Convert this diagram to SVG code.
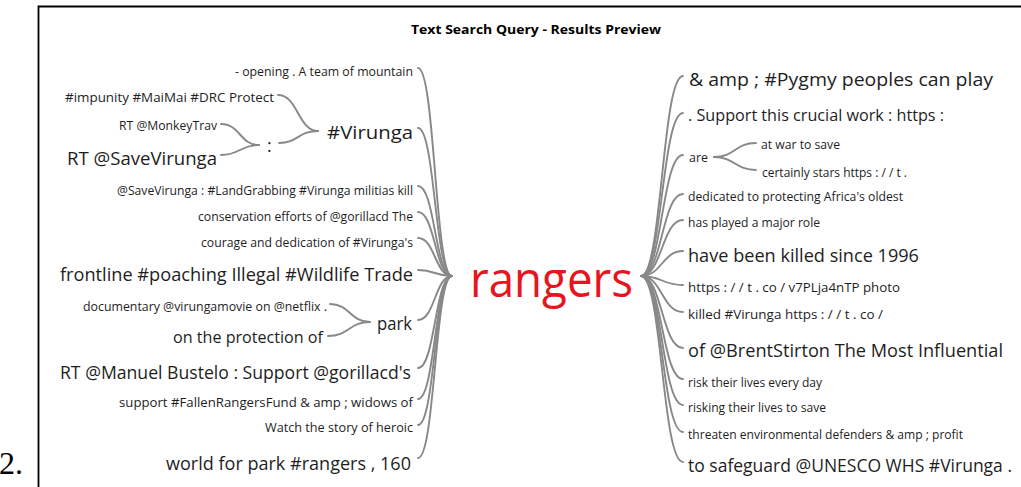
<svg xmlns="http://www.w3.org/2000/svg" width="1021" height="487" viewBox="0 0 1021 487">
<style>
.t{font-family:"Open Sans","Noto Sans",sans-serif;fill:#1e1e1e}
.s{font-size:12.5px}
.m{font-size:16px}
.l{font-size:18px}
.e{text-anchor:end}
.c{fill:none;stroke:#888;stroke-width:1.9;stroke-linecap:round}
</style>
<rect width="1021" height="487" fill="#fff"/>
<g id="frame" fill="none" stroke="#000" stroke-width="1.8">
<path d="M38.5 487V6.5H1021"/>
</g>
<text x="-1" y="474" style="font-family:'Liberation Serif',serif;font-size:32px;fill:#000">2.</text>
<g id="title"><text x="411" y="34" textLength="250" lengthAdjust="spacingAndGlyphs" style="font-family:'Open Sans','Noto Sans',sans-serif;font-weight:bold;font-size:13px;fill:#000">Text Search Query - Results Preview</text></g>

<g id="connectors">
<path class="c" d="M418 68C435 68 435 276 452 276"/>
<path class="c" d="M418 128C435 128 435 276 452 276"/>
<path class="c" d="M418 186C435 186 435 276 452 276"/>
<path class="c" d="M418 212C435 212 435 276 452 276"/>
<path class="c" d="M418 238C435 238 435 276 452 276"/>
<path class="c" d="M418 270C435 270 435 276 452 276"/>
<path class="c" d="M418 320C435 320 435 276 452 276"/>
<path class="c" d="M418 368C435 368 435 276 452 276"/>
<path class="c" d="M418 399C435 399 435 276 452 276"/>
<path class="c" d="M418 425C435 425 435 276 452 276"/>
<path class="c" d="M418 458C435 458 435 276 452 276"/>
<path class="c" d="M318 131C298 131 298 95 278 95"/>
<path class="c" d="M318 131C298 131 298 143 279 143"/>
<path class="c" d="M259 145C240 145 240 124 221 124"/>
<path class="c" d="M259 145C240 145 240 155 221 155"/>
<path class="c" d="M370 322C350 322 350 304 330 304"/>
<path class="c" d="M370 322C349 322 349 336 328 336"/>
<path class="c" d="M641 276C662 276 662 76 683 76"/>
<path class="c" d="M641 276C662 276 662 113 683 113"/>
<path class="c" d="M641 276C662 276 662 155 683 155"/>
<path class="c" d="M641 276C662 276 662 194 683 194"/>
<path class="c" d="M641 276C662 276 662 220 683 220"/>
<path class="c" d="M641 276C662 276 662 251 683 251"/>
<path class="c" d="M641 276C662 276 662 285 683 285"/>
<path class="c" d="M641 276C662 276 662 312 683 312"/>
<path class="c" d="M641 276C662 276 662 348 683 348"/>
<path class="c" d="M641 276C662 276 662 379 683 379"/>
<path class="c" d="M641 276C662 276 662 405 683 405"/>
<path class="c" d="M641 276C662 276 662 432 683 432"/>
<path class="c" d="M641 276C662 276 662 462 683 462"/>
<path class="c" d="M714 157C735 157 735 143 756 143"/>
<path class="c" d="M714 157C735 157 735 170 756 170"/>
</g>

<g id="root"><text x="470" y="297" textLength="163" lengthAdjust="spacingAndGlyphs" style="font-family:'Open Sans','Noto Sans',sans-serif;font-size:50px;fill:#e8141e">rangers</text></g>

<g id="l-opening"><text class="t s e" x="413" y="76" textLength="178" lengthAdjust="spacingAndGlyphs">- opening . A team of mountain</text></g>
<g id="l-virunga"><text class="t l e" x="413" y="139" textLength="86" lengthAdjust="spacingAndGlyphs">#Virunga</text></g>
<g id="l-impunity"><text class="t s e" x="274" y="102" textLength="209" lengthAdjust="spacingAndGlyphs">#impunity #MaiMai #DRC Protect</text></g>
<g id="l-colon"><text class="t l" x="267" y="152">:</text></g>
<g id="l-monkeytrav"><text class="t s e" x="217" y="130" textLength="98" lengthAdjust="spacingAndGlyphs">RT @MonkeyTrav</text></g>
<g id="l-savevirunga"><text class="t l e" x="217" y="165" textLength="150" lengthAdjust="spacingAndGlyphs">RT @SaveVirunga</text></g>
<g id="l-landgrabbing"><text class="t s e" x="413" y="195" textLength="296" lengthAdjust="spacingAndGlyphs">@SaveVirunga : #LandGrabbing #Virunga militias kill</text></g>
<g id="l-conservation"><text class="t s e" x="413" y="221" textLength="215" lengthAdjust="spacingAndGlyphs">conservation efforts of @gorillacd The</text></g>
<g id="l-courage"><text class="t s e" x="413" y="247" textLength="212" lengthAdjust="spacingAndGlyphs">courage and dedication of #Virunga's</text></g>
<g id="l-frontline"><text class="t l e" x="413" y="281" textLength="353" lengthAdjust="spacingAndGlyphs">frontline #poaching Illegal #Wildlife Trade</text></g>
<g id="l-park"><text class="t l e" x="412" y="330" textLength="35" lengthAdjust="spacingAndGlyphs">park</text></g>
<g id="l-documentary"><text class="t s e" x="327" y="311" textLength="244" lengthAdjust="spacingAndGlyphs">documentary @virungamovie on @netflix .</text></g>
<g id="l-protection"><text class="t m e" x="323" y="343" textLength="150" lengthAdjust="spacingAndGlyphs">on the protection of</text></g>
<g id="l-manuel"><text class="t l e" x="411" y="379" textLength="351" lengthAdjust="spacingAndGlyphs">RT @Manuel Bustelo : Support @gorillacd's</text></g>
<g id="l-support"><text class="t s e" x="413" y="407" textLength="294" lengthAdjust="spacingAndGlyphs">support #FallenRangersFund &amp; amp ; widows of</text></g>
<g id="l-watch"><text class="t s e" x="413" y="432" textLength="148" lengthAdjust="spacingAndGlyphs">Watch the story of heroic</text></g>
<g id="l-world"><text class="t l e" x="411" y="470" textLength="245" lengthAdjust="spacingAndGlyphs">world for park #rangers , 160</text></g>

<g id="r-pygmy"><text class="t l" x="689" y="86" textLength="304" lengthAdjust="spacingAndGlyphs">&amp; amp ; #Pygmy peoples can play</text></g>
<g id="r-support"><text class="t m" x="688" y="121" textLength="256" lengthAdjust="spacingAndGlyphs">. Support this crucial work : https :</text></g>
<g id="r-are"><text class="t s" x="689" y="162" textLength="19" lengthAdjust="spacingAndGlyphs">are</text></g>
<g id="r-atwar"><text class="t s" x="761" y="149" textLength="79" lengthAdjust="spacingAndGlyphs">at war to save</text></g>
<g id="r-certainly"><text class="t s" x="762" y="177" textLength="145" lengthAdjust="spacingAndGlyphs">certainly stars https : / / t .</text></g>
<g id="r-dedicated"><text class="t s" x="688" y="201" textLength="215" lengthAdjust="spacingAndGlyphs">dedicated to protecting Africa's oldest</text></g>
<g id="r-played"><text class="t s" x="688" y="227" textLength="132" lengthAdjust="spacingAndGlyphs">has played a major role</text></g>
<g id="r-killed1996"><text class="t l" x="688" y="262" textLength="231" lengthAdjust="spacingAndGlyphs">have been killed since 1996</text></g>
<g id="r-https"><text class="t s" x="688" y="292" textLength="212" lengthAdjust="spacingAndGlyphs">https : / / t . co / v7PLja4nTP photo</text></g>
<g id="r-killedvirunga"><text class="t s" x="688" y="319" textLength="195" lengthAdjust="spacingAndGlyphs">killed #Virunga https : / / t . co /</text></g>
<g id="r-brent"><text class="t l" x="688" y="357" textLength="315" lengthAdjust="spacingAndGlyphs">of @BrentStirton The Most Influential</text></g>
<g id="r-risk"><text class="t s" x="688" y="387" textLength="134" lengthAdjust="spacingAndGlyphs">risk their lives every day</text></g>
<g id="r-risking"><text class="t s" x="688" y="412" textLength="138" lengthAdjust="spacingAndGlyphs">risking their lives to save</text></g>
<g id="r-threaten"><text class="t s" x="688" y="439" textLength="275" lengthAdjust="spacingAndGlyphs">threaten environmental defenders &amp; amp ; profit</text></g>
<g id="r-safeguard"><text class="t l" x="688" y="472" textLength="324" lengthAdjust="spacingAndGlyphs">to safeguard @UNESCO WHS #Virunga .</text></g>
</svg>
